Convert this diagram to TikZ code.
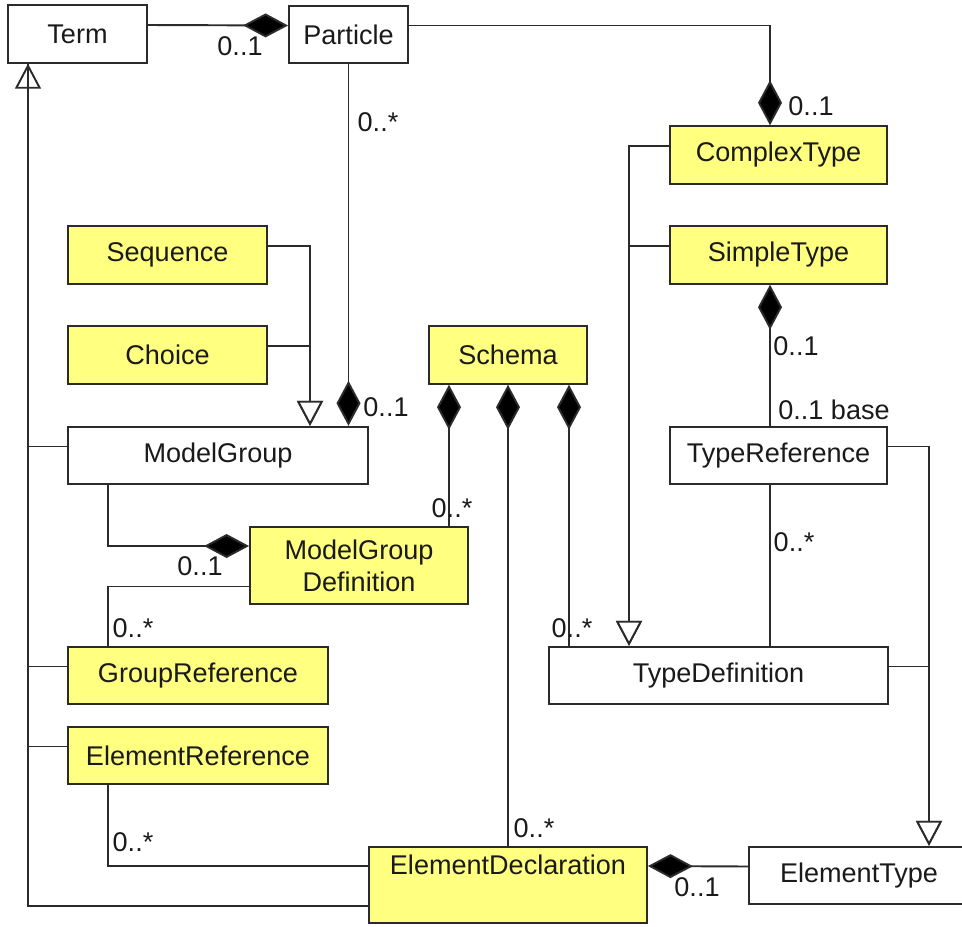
\documentclass[tikz,border=0pt]{standalone}
\usepackage{fontspec}
\setmainfont{Liberation Sans}
\definecolor{umlYellow}{HTML}{FFFF80}
\definecolor{umlLine}{HTML}{2B2B2B}
\definecolor{umlText}{HTML}{1A1A1A}
\usetikzlibrary{arrows.meta}
\tikzset{
 cls/.style={draw=umlLine, line width=1.1pt, fill=white, inner sep=0pt, minimum height=1.15cm, text=umlText, font=\fontsize{15.4}{18.2}\selectfont, align=center},
 ycls/.style={cls, fill=umlYellow},
 lbl/.style={inner sep=0pt, text=umlText, font=\fontsize{15.4}{18.2}\selectfont},
 link/.style={draw=umlLine, line width=1.1pt},
 comp/.style={link, -{Diamond[length=0.9cm, width=0.48cm, fill=black]}},
 gen/.style={link, -{Triangle[open, length=0.5cm, width=0.52cm, fill=white]}},
 hi/.style={yshift=0.18cm}
}
\begin{document}
\begin{tikzpicture}[x=0.02cm, y=-0.02cm]
\useasboundingbox (0,0) rectangle (962,926);
\clip (0,0) rectangle (962,926);
% classes
\node[cls, minimum width=2.78cm] (term) at (77.5,34) {Term};
\node[cls, minimum width=2.38cm] (part) at (348.5,34.5) {Particle};
\node[ycls, minimum width=4.34cm] (ctype) at (778.5,155) {ComplexType};
\node[ycls, minimum width=3.98cm] (seq) at (167.5,255) {Sequence};
\node[ycls, minimum width=4.34cm] (stype) at (778.5,255) {SimpleType};
\node[ycls, minimum width=3.98cm] (choice) at (167.5,355) {Choice};
\node[ycls, minimum width=3.16cm] (schema) at (508,355) {Schema};
\node[cls, minimum width=6.0cm] (mgroup) at (218,455.5) {ModelGroup};
\node[cls, minimum width=4.34cm] (tref) at (778.5,455.5) {TypeReference};
\node[ycls, minimum width=4.36cm, minimum height=1.54cm] (mgdef) at (359,565.5) {ModelGroup\\Definition};
\node[ycls, minimum width=5.2cm] (gref) at (198,675.5) {GroupReference};
\node[cls, minimum width=6.78cm] (tdef) at (718.5,675.5) {TypeDefinition};
\node[ycls, minimum width=5.2cm] (eref) at (198,755.5) {ElementReference};
\node[ycls, minimum width=5.56cm, minimum height=1.52cm] (edecl) at (508,885) {ElementDeclaration\\\strut};
\node[cls, minimum width=5.0cm] (etype) at (874,875.5) {\hspace*{-0.6cm}ElementType};
% trunk lines
\coordinate (tx) at (28,906);
\coordinate (lx) at (108,0);
\coordinate (sx) at (310,0);
\coordinate (s1) at (449,0);
\coordinate (s3) at (569,0);
\coordinate (cx) at (629,0);
\coordinate (rcol) at (770,0);
\coordinate (ex) at (929,0);
% generalisations
\draw[gen] ([yshift=-0.42cm]edecl.west) -| (tx |- term.south);
\draw[link] ([hi]mgroup.west) -| (tx |- term.south);
\draw[link] ([hi]gref.west) -| (tx |- term.south);
\draw[link] ([hi]eref.west) -| (tx |- term.south);
\draw[gen] ([hi]seq.east) -| (sx |- mgroup.north);
\draw[gen] ([hi]choice.east) -| (sx |- mgroup.north);
\draw[gen] ([hi]ctype.west) -| (cx |- tdef.north);
\draw[gen] ([hi]stype.west) -| (cx |- tdef.north);
\draw[gen] ([hi]tref.east) -| (ex |- etype.north);
\draw[gen] ([hi]tdef.east) -| (ex |- etype.north);
% compositions
\draw[comp] ([hi]term.east) -- ([hi]part.west);
\draw[comp] ([hi]part.east) -| (rcol |- ctype.north);
\draw[comp] (part.south) -- (part.south |- mgroup.north);
\draw[comp] (lx |- mgroup.south) |- ([yshift=0.39cm]mgdef.west);
\draw[comp] (s1 |- mgdef.north) -- (s1 |- schema.south);
\draw[comp] (schema.south |- edecl.north) -- (schema.south);
\draw[comp] (s3 |- tdef.north) -- (s3 |- schema.south);
\draw[comp] (rcol |- tref.north) -- (rcol |- stype.south);
\draw[comp] ([hi]etype.west) -- ([yshift=0.38cm]edecl.east);
% associations
\draw[link] ([yshift=-0.42cm]mgdef.west) -| (lx |- gref.north);
\draw[link] (lx |- eref.south) |- ([yshift=0.38cm]edecl.west);
\draw[link] (rcol |- tref.south) -- (rcol |- tdef.north);
% multiplicities
\node[lbl] (m1) at (240,46) {0..1};
\node[lbl] (m2) at (378,122) {0..*};
\node[lbl] (m3) at (811,106) {0..1};
\node[lbl] (m4) at (386,407) {0..1};
\node[lbl] (m5) at (796,346) {0..1};
\node[lbl] (m6) at (834,410) {0..1 base};
\node[lbl] (m7) at (452,508) {0..*};
\node[lbl] (m8) at (794,542) {0..*};
\node[lbl] (m9) at (200,566) {0..1};
\node[lbl] (m10) at (133,628) {0..*};
\node[lbl] (m11) at (572,628) {0..*};
\node[lbl] (m12) at (534,828) {0..*};
\node[lbl] (m13) at (133,842) {0..*};
\node[lbl] (m14) at (697,887) {0..1};
\end{tikzpicture}
\end{document}
